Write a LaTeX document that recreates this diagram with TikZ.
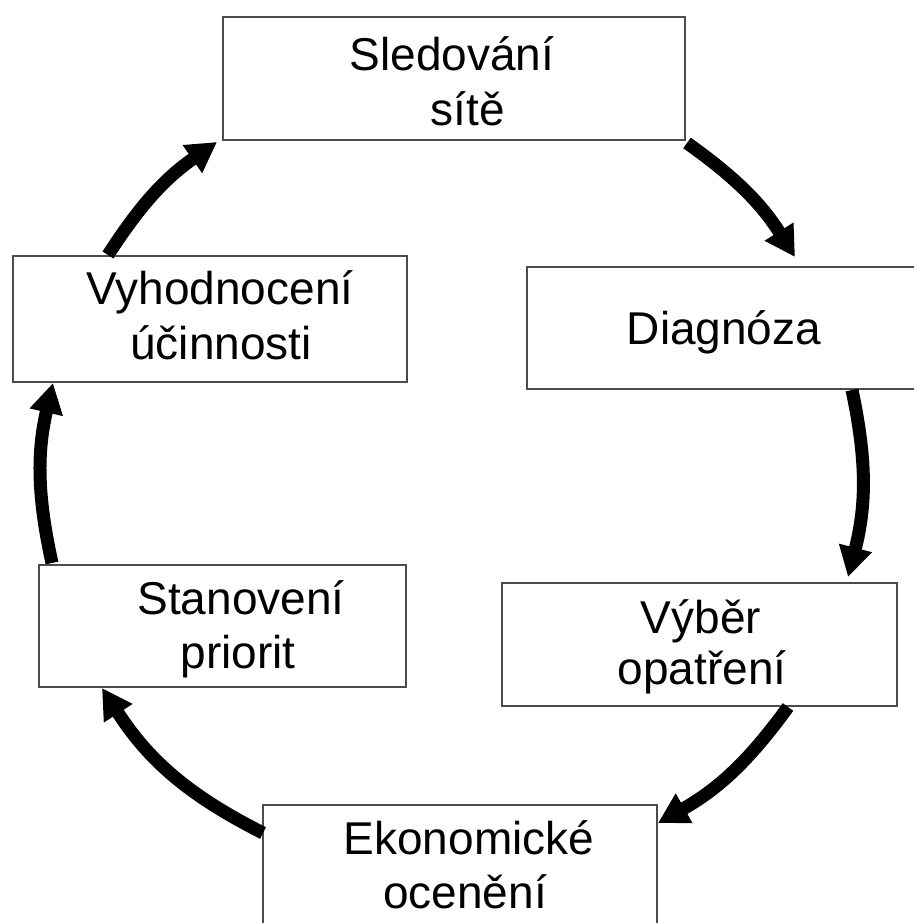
\documentclass[tikz,border=0pt]{standalone}
\usepackage{fontspec}
\setmainfont{Liberation Sans}
\usetikzlibrary{arrows.meta}
\begin{document}
\begin{tikzpicture}[x=1pt,y=1pt,
  box/.style={draw=black!70, line width=1.6pt, rectangle, inner sep=0pt, fill=white},
  lbl/.style={anchor=base, inner sep=0pt, font=\fontsize{46}{54}\selectfont},
  cyc/.style={line width=13pt, -{Triangle[length=30pt,width=32pt]}}]
\useasboundingbox (0,0) rectangle (913,-923);
% boxes
\node[box, minimum width=462pt, minimum height=123pt] (sled) at (454,-78.5) {};
\node[box, minimum width=388pt, minimum height=122pt] (diag) at (721,-328) {};
\node[box, minimum width=395pt, minimum height=123pt] (vyber) at (699.5,-644.5) {};
\node[box, minimum width=394pt, minimum height=125pt] (ekon) at (460,-867.5) {};
\node[box, minimum width=367pt, minimum height=122pt] (stan) at (222.5,-626) {};
\node[box, minimum width=394pt, minimum height=126pt] (vyhod) at (210,-319) {};
% labels
\node[lbl] (t1a) at (452,-71) {Sledování};
\node[lbl] (t1b) at (468,-125) {sítě};
\node[lbl] (t2a) at (724,-344) {Diagnóza};
\node[lbl] (t3a) at (701,-633) {Výběr};
\node[lbl] (t3b) at (702,-684) {opatření};
\node[lbl] (t4a) at (469,-854) {Ekonomické};
\node[lbl] (t4b) at (465,-908) {ocenění};
\node[lbl] (t5a) at (241,-614) {Stanovení};
\node[lbl] (t5b) at (238,-668) {priorit};
\node[lbl] (t6a) at (220,-304) {Vyhodnocení};
\node[lbl] (t6b) at (221,-359) {účinnosti};
% arrow end points
\coordinate (a1s) at (687,-143);
\coordinate (a1e) at (795,-257);
\coordinate (a2s) at (852,-390);
\coordinate (a2e) at (848,-577);
\coordinate (a3s) at (788,-707);
\coordinate (a3e) at (658,-823);
\coordinate (a4s) at (263,-833);
\coordinate (a4e) at (102,-688);
\coordinate (a5s) at (52,-563);
\coordinate (a5e) at (53,-383);
\coordinate (a6s) at (108,-255);
\coordinate (a6e) at (217,-142);
% arrows
\draw[cyc] (a1s) to[bend left=11.2] (a1e);
\draw[cyc] (a2s) to[bend left=13.2] (a2e);
\draw[cyc] (a3s) to[bend left=12.3] (a3e);
\draw[cyc] (a4s) to[bend left=15.2] (a4e);
\draw[cyc] (a5s) to[bend left=12.7] (a5e);
\draw[cyc] (a6s) to[bend left=11.2] (a6e);
\end{tikzpicture}
\end{document}
